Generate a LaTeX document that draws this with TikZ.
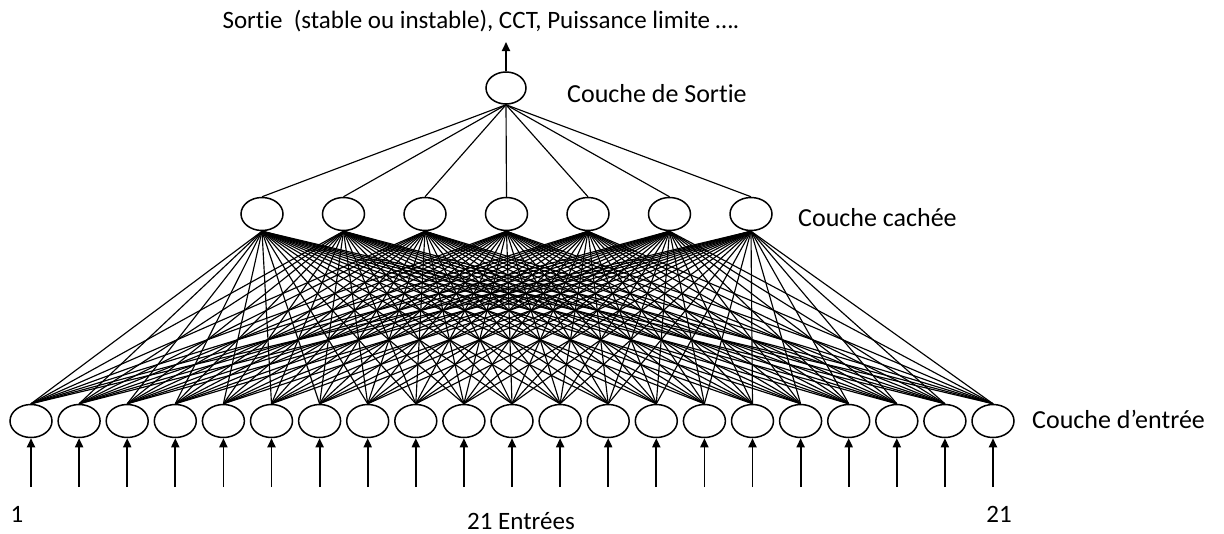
\documentclass[tikz,border=0pt]{standalone}
\usepackage{fontspec}
\setmainfont[Ligatures=NoCommon]{Carlito}
\usetikzlibrary{arrows.meta,shapes.geometric}
\begin{document}
\begin{tikzpicture}[x=1pt,y=-1pt,
  neuron/.style={draw,ellipse,line width=1.5pt,minimum width=42pt,minimum height=33pt,inner sep=0pt},
  conn/.style={line width=1.15pt},
  inarrow/.style={line width=1.8pt,-{Triangle[length=9pt,width=8pt]}},
  lbl/.style={font=\fontsize{25}{30}\selectfont,inner sep=0pt,anchor=base},
  side/.style={font=\fontsize{26}{30}\selectfont,inner sep=0pt,anchor=base west}]
\useasboundingbox (0,0) rectangle (1224,533);
% output
\node[neuron,minimum width=40pt,minimum height=32pt] (out) at (506,88) {};
% hidden
\foreach \j in {1,...,7} {
  \node[neuron] (h\j) at ({262+81.5*(\j-1)},214) {};
}
% inputs
\foreach \i in {1,...,21} {
  \node[neuron] (i\i) at ({31+48.1*(\i-1)},421) {};
  \coordinate (s\i) at ({31+48.1*(\i-1)},487);
}
% connections
\foreach \j in {1,...,7} {
  \draw[conn] (out.south) -- (h\j.north);
  \foreach \i in {1,...,21} {
    \draw[conn] (h\j.south) -- (i\i.north);
  }
}
\foreach \i in {1,...,21} {
  \draw[inarrow] (s\i) -- (i\i.south);
}
\coordinate (top) at (506,42);
\draw[inarrow] (out.north) -- (top);
% labels
\node[lbl] (ttop) at (481,28) {Sortie\ \ (stable ou instable), CCT, Puissance limite ….};
\node[side] (lout) at (567,102) {Couche de Sortie};
\node[side] (lhid) at (798,226) {Couche cachée};
\node[side] (lin) at (1032,428) {Couche d’entrée};
\node[lbl] (n1) at (17,522) {1};
\node[lbl] (n21) at (999,522) {21};
\node[lbl] (lent) at (521,529) {21 Entrées};
\end{tikzpicture}
\end{document}
